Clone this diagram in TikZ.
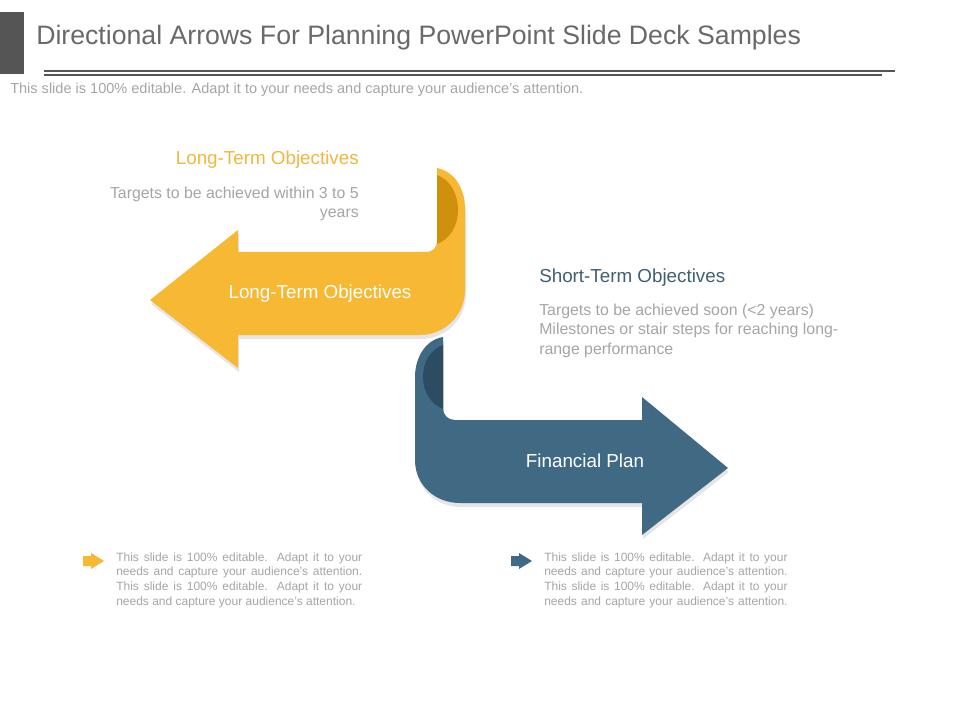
\documentclass[tikz,border=0pt]{standalone}
\usepackage{fontspec}
\setmainfont{Liberation Sans}
\usepackage{tikz}
\usepackage{xcolor}
\definecolor{gold}{RGB}{247,184,52}
\definecolor{golddark}{RGB}{209,144,12}
\definecolor{goldtext}{RGB}{239,183,62}
\definecolor{steel}{RGB}{64,105,132}
\definecolor{steeldark}{RGB}{44,76,97}
\definecolor{steeltext}{RGB}{63,95,115}
\definecolor{inkgray}{RGB}{105,105,105}
\definecolor{softgray}{RGB}{165,165,165}
\definecolor{bargray}{RGB}{85,85,85}
\newcommand{\jline}[2][184.5pt]{\makebox[#1][s]{#2}}

\begin{document}
\begin{tikzpicture}[x=0.75pt,y=-0.75pt,
  every node/.style={inner sep=0pt},
  titletext/.style={font=\fontsize{20}{24}\selectfont, text=inkgray, anchor=base west},
  note/.style={font=\fontsize{10.9}{13}\selectfont, text=softgray, anchor=base west},
  heading/.style={font=\fontsize{14.1}{17}\selectfont},
  body/.style={font=\fontsize{11.9}{14.6}\selectfont, text=softgray},
  arrowtext/.style={font=\fontsize{14.1}{17}\selectfont, text=white},
  smalltext/.style={font=\fontsize{9}{11}\selectfont, text=softgray, anchor=base west, align=left},
  rule/.style={draw=bargray, line width=1.5pt},
  dropshadow/.style={fill=black, opacity=0.10}]
  \useasboundingbox (0,0) rectangle (960,720);

  \fill[bargray] (0,12) rectangle (24,74);
  \node[titletext] (title) at (36,45) {Directional Arrows For Planning PowerPoint Slide Deck Samples};
  \draw[rule] (44,71) -- (895,71);
  \draw[rule] (44,75) -- (882,75);
  \node[note] (sub) at (10,94) {This slide is 100\% editable. Adapt it to your needs and capture your audience’s attention.};

  \fill[dropshadow, shift={(1,4)}] (150,300) -- (238,230) -- (238,252) -- (425,252)
    .. controls (433,252) and (437,248) .. (437,240) -- (437,168)
    .. controls (455,172) and (465,188) .. (465,210) -- (465,290)
    .. controls (465,315) and (445,335) .. (420,335) -- (238,335) -- (238,368) -- cycle;
  \fill[gold] (150,300) -- (238,230) -- (238,252) -- (425,252)
    .. controls (433,252) and (437,248) .. (437,240) -- (437,168)
    .. controls (455,172) and (465,188) .. (465,210) -- (465,290)
    .. controls (465,315) and (445,335) .. (420,335) -- (238,335) -- (238,368) -- cycle;
  \fill[golddark] (437,175) .. controls (451,180) and (458,195) .. (458,210)
    .. controls (458,226) and (450,239) .. (437,244) -- cycle;
  \node[arrowtext] (longarrow) at (320,294) {Long-Term Objectives};

  \fill[dropshadow, shift={(1,4)}] (728,468) -- (642,397) -- (642,420) -- (455,420)
    .. controls (448,420) and (443,415) .. (443,408) -- (443,337)
    .. controls (425,340) and (415,358) .. (415,377) -- (415,460)
    .. controls (415,485) and (435,503) .. (460,503) -- (642,503) -- (642,535) -- cycle;
  \fill[steel] (728,468) -- (642,397) -- (642,420) -- (455,420)
    .. controls (448,420) and (443,415) .. (443,408) -- (443,337)
    .. controls (425,340) and (415,358) .. (415,377) -- (415,460)
    .. controls (415,485) and (435,503) .. (460,503) -- (642,503) -- (642,535) -- cycle;
  \fill[steeldark] (443,345) .. controls (430,350) and (423,362) .. (423,377)
    .. controls (423,392) and (431,404) .. (443,409) -- cycle;
  \node[arrowtext] (finarrow) at (585,461) {Financial Plan};

  \node[heading, text=goldtext, anchor=base east] (longhead) at (359,165) {Long-Term Objectives};
  \node[body, anchor=base east, align=right] (longbody) at (359,218) {Targets to be achieved within 3 to 5\\years};
  \node[heading, text=steeltext, anchor=base west] (shorthead) at (539,282) {Short-Term Objectives};
  \node[body, anchor=base west, align=left] (shortbody) at (539,354) {Targets to be achieved soon (<2 years)\\Milestones or stair steps for reaching long-\\range performance};

  \fill[gold] (83,556) -- (91,556) -- (91,553) -- (104,561) -- (91,569) -- (91,566) -- (83,566) -- cycle;
  \fill[steel, shift={(428,0)}] (83,556) -- (91,556) -- (91,553) -- (104,561) -- (91,569) -- (91,566) -- (83,566) -- cycle;
  \node[smalltext] (leftnote) at (116,605) {\jline{This slide is 100\% editable. Adapt it to your}\\\jline{needs and capture your audience’s attention.}\\\jline{This slide is 100\% editable. Adapt it to your}\\needs and capture your audience’s attention.};
  \node[smalltext] (rightnote) at (544,605) {\jline[182.5pt]{This slide is 100\% editable. Adapt it to your}\\\jline[182.5pt]{needs and capture your audience’s attention.}\\\jline[182.5pt]{This slide is 100\% editable. Adapt it to your}\\\jline[182.5pt]{needs and capture your audience’s attention.}};
\end{tikzpicture}
\end{document}
